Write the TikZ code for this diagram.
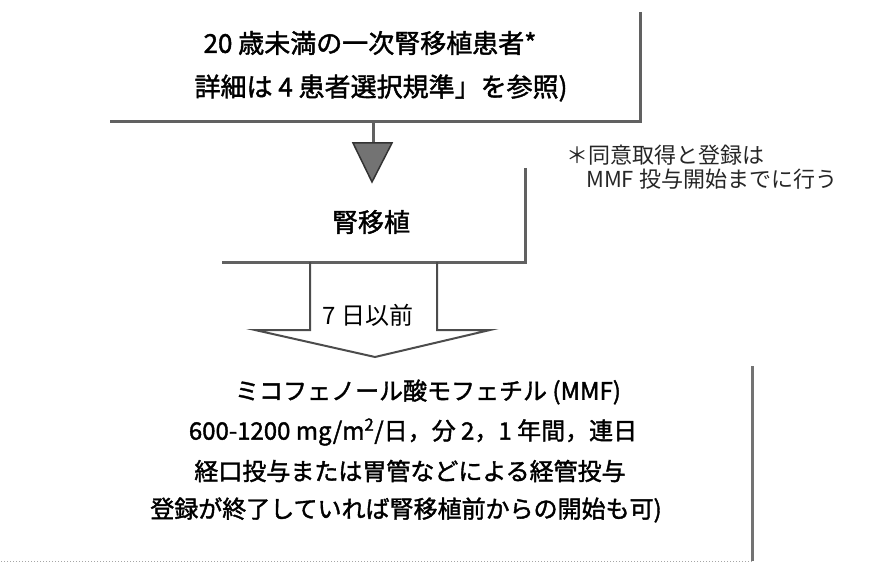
\documentclass[tikz,border=0pt]{standalone}
\usepackage{fontspec}
\newfontfamily\jp{Noto Sans CJK JP}
\newfontfamily\jpb[FakeBold=1.6]{Noto Sans CJK JP}
\begin{document}
\begin{tikzpicture}[x=1pt,y=-1pt,
  rule/.style={draw=black!62, line width=3pt},
  outl/.style={draw=black!70, line width=2pt, line join=miter},
  txt/.style={font=\jpb\fontsize{24}{28}\selectfont, inner sep=0pt, anchor=center},
  bigtxt/.style={txt, font=\jpb\fontsize{26}{30}\selectfont},
  note/.style={font=\jp\fontsize{22}{26}\selectfont, inner sep=0pt, anchor=west, text=black!85}]
\useasboundingbox (0,0) rectangle (883,564);
% top box
\coordinate (tTR) at (640,12);
\coordinate (tBR) at (640,122);
\coordinate (tBL) at (110,122);
\draw[rule] (tTR) -- (tBR) -- (tBL);
\node[bigtxt] (t1) at (370,43) {20 歳未満の一次腎移植患者*};
\node[bigtxt] (t2) at (381,88) {詳細は 4 患者選択規準」を参照)};
% connector and filled triangle
\coordinate (c1) at (373,122);
\coordinate (c2) at (373,143);
\coordinate (triL) at (353,143);
\coordinate (triR) at (392,143);
\coordinate (triA) at (372,182);
\draw[rule] (c1) -- (c2);
\draw[fill=black!55, draw=black!80, line width=1.5pt, line join=miter] (triL) -- (triR) -- (triA) -- cycle;
% middle box
\node[bigtxt] (m) at (371,222) {腎移植};
\coordinate (mTR) at (525,168);
\coordinate (mBR) at (525,262);
\coordinate (mBL) at (222,262);
\draw[rule] (mTR) -- (mBR) -- (mBL);
% open arrow
\coordinate (a1) at (310,262);
\coordinate (a2) at (310,330);
\coordinate (a3) at (255,330);
\coordinate (a4) at (375,357);
\coordinate (a5) at (490,330);
\coordinate (a6) at (437,330);
\coordinate (a7) at (437,262);
\draw[outl] (a1) -- (a2) -- (a3) -- (a4) -- (a5) -- (a6) -- (a7);
\node[txt, font=\jp\fontsize{24}{28}\selectfont] (d) at (368,315) {7 日以前};
% note
\node[note] (n1) at (566,155) {＊同意取得と登録は};
\node[note] (n2) at (586,179) {MMF 投与開始までに行う};
% bottom box
\coordinate (bTR) at (752,366);
\coordinate (bBR) at (752,561);
\coordinate (bBL) at (0,561);
\draw[draw=black!55, line width=3pt] (bTR) -- (bBR);
\draw[draw=black!35, line width=1pt, dotted] (bBR) -- (bBL);
\node[txt] (b1) at (428,392) {ミコフェノール酸モフェチル (MMF)};
\node[txt] (b2) at (413,432) {600-1200 mg/m\textsuperscript{2}/日，分 2，1 年間，連日};
\node[txt] (b3) at (410,471) {経口投与または胃管などによる経管投与};
\node[txt] (b4) at (406,510) {登録が終了していれば腎移植前からの開始も可)};
\end{tikzpicture}
\end{document}
